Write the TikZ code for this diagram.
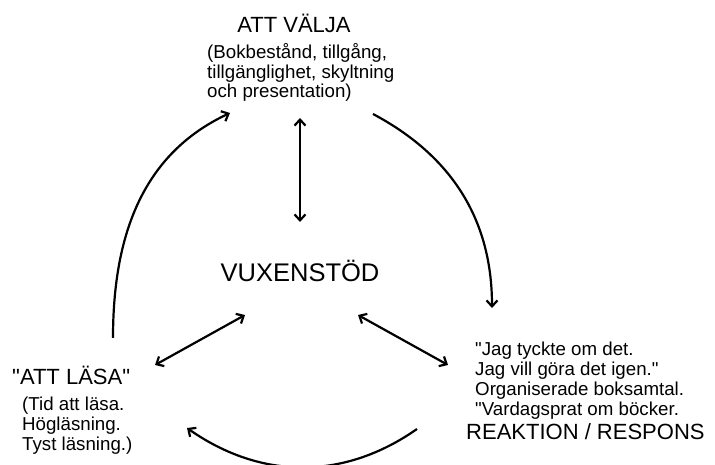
\documentclass[tikz,border=0pt]{standalone}
\usepackage{fontspec}
\setmainfont{Liberation Sans}[Ligatures=TeXOff]
\usetikzlibrary{arrows.meta,positioning}

\begin{document}
\begin{tikzpicture}[x=1pt, y=1pt,
  title/.style={inner sep=0, font=\fontsize{22}{24}\selectfont},
  txt/.style={inner sep=0, align=left, font=\fontsize{18.7}{19.8}\selectfont},
  link/.style={{Straight Barb[length=6pt,width=11pt]}-{Straight Barb[length=6pt,width=11pt]}, line width=2.2pt},
  flow/.style={-{Straight Barb[length=6pt,width=11pt]}, line width=2.2pt}
]
\useasboundingbox (0,0) rectangle (715,465);

% --- Nodes ---
\node[title, anchor=base] (valja) at (294,432) {ATT VÄLJA};
\node[txt, anchor=north west] (valjatxt) at (207,422) {(Bokbestånd, tillgång,\\tillgänglighet, skyltning\\och presentation)};
\node[inner sep=0, font=\fontsize{25.5}{27}\selectfont] (vuxen) at (300,194) {VUXENSTÖD};
\node[title, anchor=base west] (lasa) at (12,80) {"ATT LÄSA"};
\node[txt, anchor=north west] (lasatxt) at (22,68) {(Tid att läsa.\\Högläsning.\\Tyst läsning.)};
\node[txt, anchor=north west] (resptxt) at (475,123) {"Jag tyckte om det.\\Jag vill göra det igen."\\Organiserade boksamtal.\\"Vardagsprat om böcker.};
\node[title, anchor=base west] (respons) at (466,25) {REAKTION / RESPONS};

% --- Arrow ends ---
\coordinate (vtop) at (300,347);
\coordinate (vbot) at (300,243);
\coordinate (lout) at (155,100);
\coordinate (lin)  at (245,150);
\coordinate (rin)  at (358,150);
\coordinate (rout) at (448,100);
\coordinate (trs) at (373,351);
\coordinate (tre) at (492,157);
\coordinate (bts) at (417,36);
\coordinate (bte) at (187,37);
\coordinate (lfs) at (113,127);
\coordinate (lfe) at (230,352);

% --- Links to VUXENSTÖD ---
\draw[link] (vtop) -- (vbot);
\draw[link] (lout) -- (lin);
\draw[link] (rin) -- (rout);

% --- Cycle ---
\draw[flow] (trs) to[out=-28, in=90] (tre);
\draw[flow] (bts) to[out=-145, in=-35] (bte);
\draw[flow] (lfs) to[out=90, in=205] (lfe);

\end{tikzpicture}
\end{document}
